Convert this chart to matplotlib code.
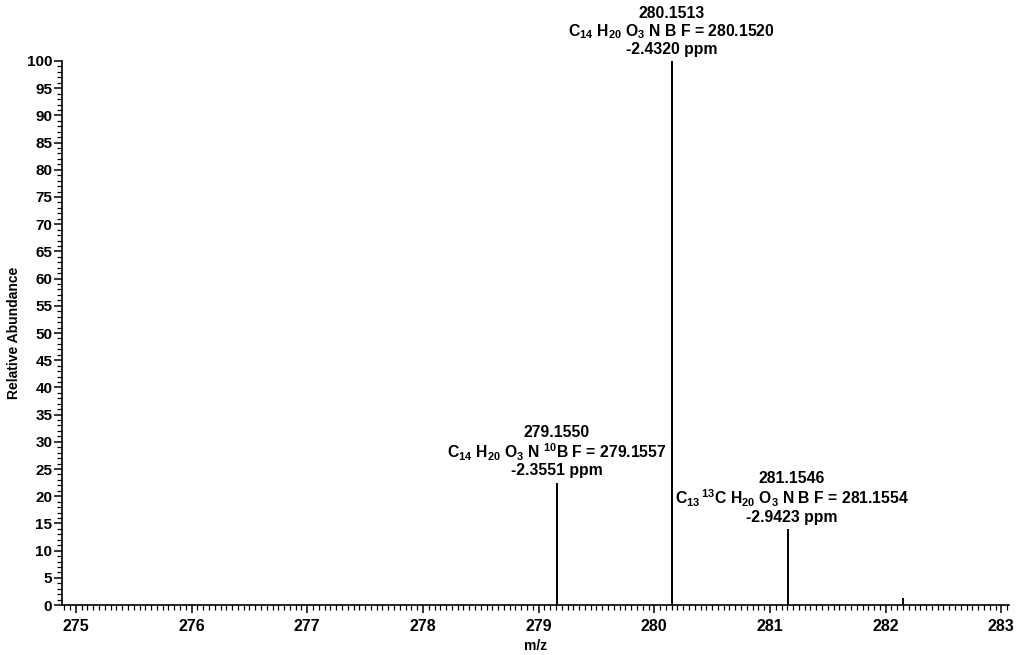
import matplotlib
matplotlib.use("Agg")
import matplotlib.pyplot as plt
from matplotlib.ticker import MultipleLocator

plt.rcParams['font.family'] = ['Liberation Sans', 'DejaVu Sans']
plt.rcParams['mathtext.fontset'] = 'custom'
plt.rcParams['mathtext.rm'] = 'Liberation Sans:bold'
plt.rcParams['mathtext.it'] = 'Liberation Sans:bold'
plt.rcParams['mathtext.bf'] = 'Liberation Sans:bold'

# peak data (m/z, relative abundance)
mz = [279.1550, 280.1513, 281.1546, 282.1500]
abundance = [22.5, 100.0, 14.0, 1.2]

# annotations for labelled peaks
label_mz = [279.1550, 280.1513, 281.1546]
label_height = [22.5, 100.0, 14.0]
label_mass = ["279.1550", "280.1513", "281.1546"]
label_formula = [
    r"C$_{14}$ H$_{20}$ O$_3$ N $^{10}$B F = 279.1557",
    r"C$_{14}$ H$_{20}$ O$_3$ N B F = 280.1520",
    r"C$_{13}\,^{13}$C H$_{20}$ O$_3$ N B F = 281.1554",
]
label_ppm = ["-2.3551 ppm", "-2.4320 ppm", "-2.9423 ppm"]
label_dx = [0, 0, 3]

xticks = [275, 276, 277, 278, 279, 280, 281, 282, 283]
yticks = list(range(0, 101, 5))

fig = plt.figure(figsize=(10.22, 6.55), dpi=100)
ax = fig.add_axes([0.0607, 0.0763, 0.927, 0.8306])

ax.vlines(mz, 0, abundance, color='black', linewidth=1.4)

for x, h, m, f, p, dx in zip(label_mz, label_height, label_mass, label_formula, label_ppm, label_dx):
    ax.annotate(f"{m}\n{f}\n{p}", xy=(x, h), xytext=(dx, 3), textcoords='offset points',
                ha='center', va='bottom', fontsize=11.3, fontweight='bold',
                linespacing=1.07, annotation_clip=False)

ax.set_xlim(274.88, 283.07)
ax.set_ylim(0, 100)
ax.set_xticks(xticks)
ax.set_yticks(yticks)
ax.xaxis.set_minor_locator(MultipleLocator(0.05))
ax.yaxis.set_minor_locator(MultipleLocator(1))

for s in ['top', 'right']:
    ax.spines[s].set_visible(False)
for s in ['left', 'bottom']:
    ax.spines[s].set_linewidth(1.2)

ax.tick_params(axis='both', which='major', direction='out', length=6, width=1.1)
ax.tick_params(axis='both', which='minor', direction='out', length=3.5, width=0.9)
ax.tick_params(axis='x', labelsize=11.5, pad=4)
ax.tick_params(axis='y', labelsize=11, pad=1)
for lab in ax.get_xticklabels() + ax.get_yticklabels():
    lab.set_fontweight('bold')

ax.set_xlabel("m/z", fontsize=10, fontweight='bold', labelpad=4)
ax.set_ylabel("Relative Abundance", fontsize=10, fontweight='bold', labelpad=4)

fig.savefig("out.png", dpi=100, facecolor='white')
